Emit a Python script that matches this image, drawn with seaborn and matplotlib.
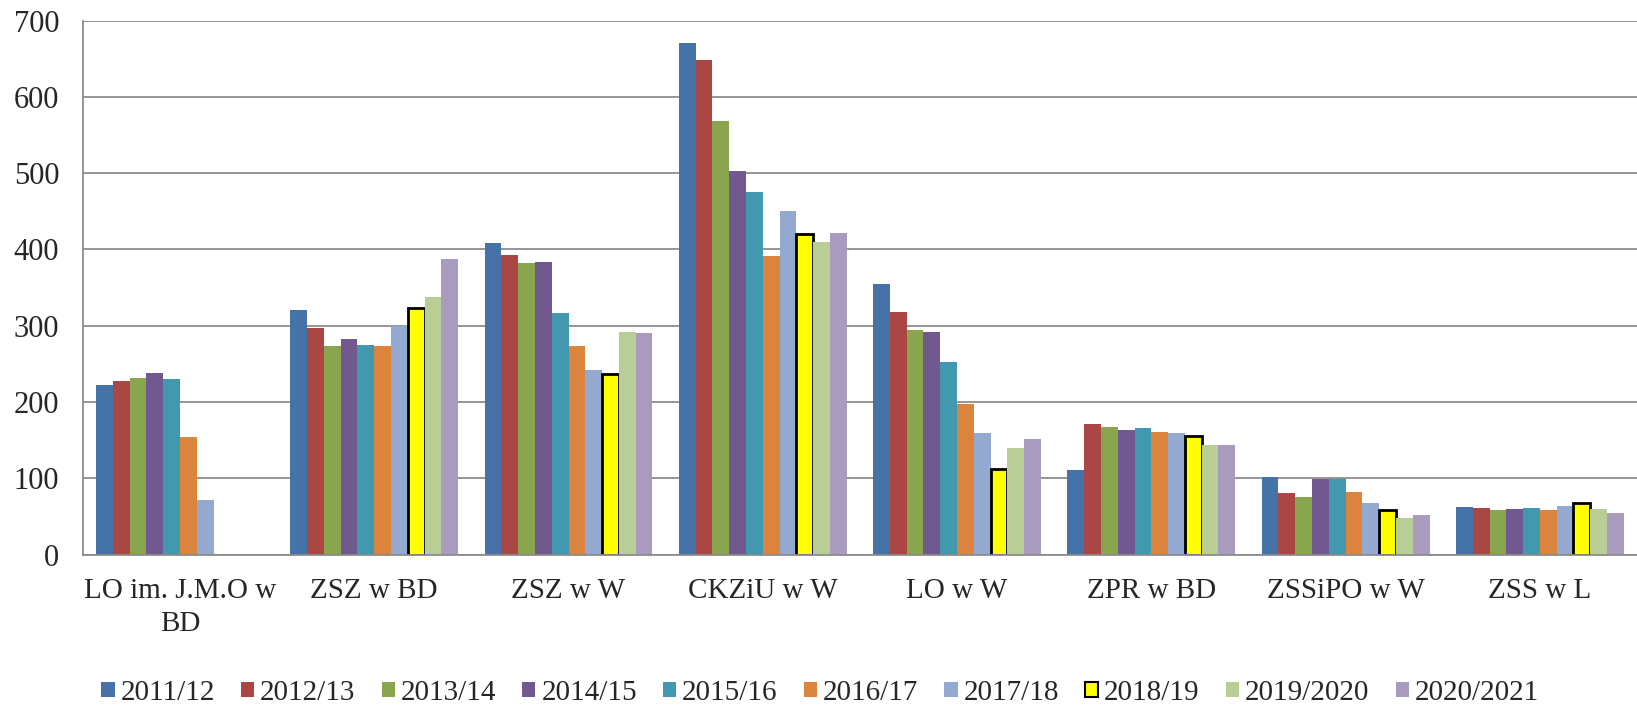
import pandas as pd
import numpy as np
import matplotlib
matplotlib.use('Agg')
import matplotlib.pyplot as plt
import seaborn as sns
from matplotlib.patches import Patch

# Schools (x categories)
schools = ['LO im. J.M.O w\nBD', 'ZSZ w BD', 'ZSZ w W', 'CKZiU w W',
           'LO w W', 'ZPR w BD', 'ZSSiPO w W', 'ZSS w L']

# School years (series)
years = ['2011/12', '2012/13', '2013/14', '2014/15', '2015/16',
         '2016/17', '2017/18', '2018/19', '2019/2020', '2020/2021']

# Values, one list per school (in year order)
lo_jmo_bd = [222, 228, 231, 238, 230, 154, 72, np.nan, np.nan, np.nan]
zsz_bd = [321, 297, 274, 283, 275, 274, 300, 323, 338, 388]
zsz_w = [409, 393, 382, 384, 317, 274, 242, 237, 292, 291]
ckziu_w = [670, 648, 568, 503, 475, 392, 450, 420, 410, 421]
lo_w = [355, 318, 294, 292, 252, 197, 159, 112, 139, 152]
zpr_bd = [111, 171, 167, 163, 166, 160, 159, 155, 143, 143]
zssipo_w = [102, 81, 76, 99, 99, 82, 67, 58, 48, 52]
zss_l = [62, 61, 58, 60, 61, 59, 64, 67, 60, 54]

colors = ['#4572A7', '#AA4643', '#89A54E', '#71588F', '#4198AF',
          '#DB843D', '#93A9CF', '#FFFF00', '#B9CD96', '#A99BBD']

values = [lo_jmo_bd, zsz_bd, zsz_w, ckziu_w, lo_w, zpr_bd, zssipo_w, zss_l]
rows = []
for school, vals in zip(schools, values):
    for year, v in zip(years, vals):
        rows.append({'school': school, 'year': year, 'count': v})
df = pd.DataFrame(rows)

sns.set_style('white')
plt.rcParams['font.family'] = ['Liberation Serif', 'DejaVu Serif']

fig = plt.figure(figsize=(16.37, 7.1), dpi=100)
ax = fig.add_axes([0.0506, 0.219, 0.9494, 0.752])

sns.barplot(data=df, x='school', y='count', hue='year', order=schools,
            hue_order=years, palette=colors, width=0.864, saturation=1,
            linewidth=0, errorbar=None, legend=False, ax=ax)

# 2018/19 bars get a black outline
for bar in ax.containers[7]:
    bar.set_edgecolor('black')
    bar.set_linewidth(2)

ax.set_ylim(0, 700)
ax.set_xlim(-0.5, 7.5)
ax.set_yticks(range(0, 701, 100))
ax.yaxis.grid(True, color='#8c8c8c', linewidth=1.3)
ax.set_axisbelow(True)
ax.set_xlabel('')
ax.set_ylabel('')
for side in ['top', 'right']:
    ax.spines[side].set_visible(False)
for side in ['left', 'bottom']:
    ax.spines[side].set_color('#8c8c8c')
    ax.spines[side].set_linewidth(1.3)
ax.tick_params(axis='y', length=0, pad=17, labelsize=22)
ax.tick_params(axis='x', length=0, pad=17, labelsize=21)
for lbl in ax.get_xticklabels():
    lbl.set_linespacing(1.35)

handles = []
for i, (year, c) in enumerate(zip(years, colors)):
    if i == 7:
        handles.append(Patch(facecolor=c, edgecolor='black', linewidth=1.5, label=year))
    else:
        handles.append(Patch(facecolor=c, edgecolor='none', label=year))
fig.legend(handles=handles, loc='center', bbox_to_anchor=(0.501, 0.024),
           ncol=10, frameon=False, fontsize=21, handlelength=0.45,
           handleheight=0.45, handletextpad=0.2, columnspacing=0.9)

fig.savefig('out.png', dpi=100)
